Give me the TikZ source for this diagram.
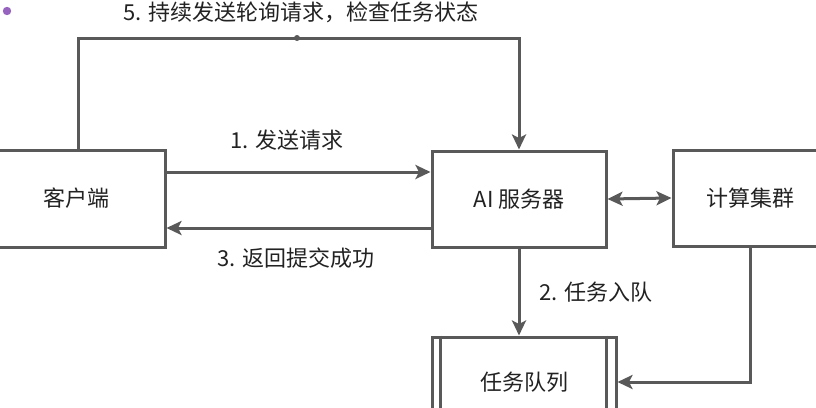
\documentclass[tikz,border=0pt]{standalone}
\usepackage{fontspec}
\setmainfont{Noto Sans CJK SC}
\usetikzlibrary{arrows.meta}
\definecolor{lc}{RGB}{89,89,89}
\definecolor{tc}{RGB}{34,34,34}
\definecolor{dotc}{RGB}{150,100,190}
\tikzset{tip/.tip={Stealth[length=15pt,width=14pt,inset=3.5pt]}}
\begin{document}
\begin{tikzpicture}[x=1pt,y=-1pt,
  box/.style={draw=lc, line width=3pt, fill=white, inner sep=0pt, font=\fontsize{22}{26}\selectfont, text=tc},
  lbl/.style={inner sep=0pt, font=\fontsize{22}{26}\selectfont, text=tc},
  arr/.style={draw=lc, line width=3pt, -tip},
  darr/.style={draw=lc, line width=3pt, tip-tip}]
\useasboundingbox (0,0) rectangle (816,407);
\clip (0,0) rectangle (816,407);
\node[box, minimum width=177pt, minimum height=97pt] (client) at (76.5,198.5) {客户端};
\node[box, minimum width=174pt, minimum height=96pt] (ai) at (519,199) {AI 服务器};
\node[box, minimum width=154pt, minimum height=96pt] (cluster) at (750,198) {计算集群};
\node[box, minimum width=184pt, minimum height=90pt] (queue) at (524,382) {任务队列};
\draw[lc, line width=3pt] ([xshift=10pt]queue.north west) -- ([xshift=10pt]queue.south west);
\draw[lc, line width=3pt] ([xshift=-11pt]queue.north east) -- ([xshift=-11pt]queue.south east);
\coordinate (top) at (297,38);
\fill[dotc] (7,11) circle (4.2pt);
\draw[arr] ([xshift=1.5pt]client.north) |- (top) -| (ai.north);
\fill[lc] (top) circle (3pt);
\draw[arr] (client.east |- 0,172) -- (ai.west |- 0,172);
\draw[arr] (ai.west |- 0,228) -- (client.east |- 0,228);
\draw[darr] (ai.east) -- (cluster.west);
\draw[arr] (ai.south) -- (ai.south |- queue.north);
\draw[arr] (cluster.south) |- (queue.east);
\node[lbl] (l5) at (301,12) {5. 持续发送轮询请求，检查任务状态};
\node[lbl] (l1) at (287,140) {1. 发送请求};
\node[lbl] (l3) at (296,258) {3. 返回提交成功};
\node[lbl] (l2) at (596,292) {2. 任务入队};
\end{tikzpicture}
\end{document}
